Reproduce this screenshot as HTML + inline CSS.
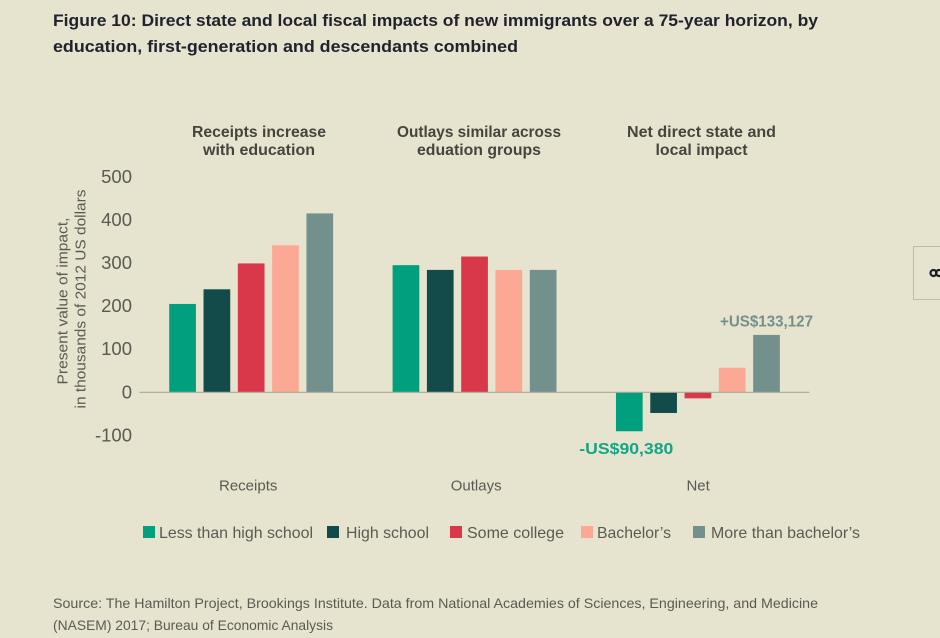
<!DOCTYPE html>
<html lang="en">
<head>
<meta charset="utf-8">
<title>Figure 10</title>
<style>
html,body{margin:0;padding:0;background:#e6e4ce;}
body{width:940px;height:638px;overflow:hidden;position:relative;font-family:"Liberation Sans",sans-serif;}
svg{position:absolute;left:0;top:0;display:block;}
text{font-family:"Liberation Sans",sans-serif;}
</style>
</head>
<body>
<svg id="chart" width="940" height="638" viewBox="0 0 940 638" xmlns="http://www.w3.org/2000/svg">
  <rect x="0" y="0" width="940" height="638" fill="#e6e4ce"/>
  <text x="53" y="26" font-size="17" font-weight="700" fill="#20232e" textLength="765" lengthAdjust="spacingAndGlyphs">Figure 10: Direct state and local fiscal impacts of new immigrants over a 75-year horizon, by</text>
  <text x="53" y="52" font-size="17" font-weight="700" fill="#20232e" textLength="465" lengthAdjust="spacingAndGlyphs">education, first-generation and descendants combined</text>

  <text x="259" y="137" text-anchor="middle" font-size="15.5" font-weight="700" fill="#45453e" textLength="134" lengthAdjust="spacingAndGlyphs">Receipts increase</text>
  <text x="259" y="155" text-anchor="middle" font-size="15.5" font-weight="700" fill="#45453e" textLength="112" lengthAdjust="spacingAndGlyphs">with education</text>
  <text x="479" y="137" text-anchor="middle" font-size="15.5" font-weight="700" fill="#45453e" textLength="164" lengthAdjust="spacingAndGlyphs">Outlays similar across</text>
  <text x="479" y="155" text-anchor="middle" font-size="15.5" font-weight="700" fill="#45453e" textLength="124" lengthAdjust="spacingAndGlyphs">eduation groups</text>
  <text x="701.5" y="137" text-anchor="middle" font-size="15.5" font-weight="700" fill="#45453e" textLength="149" lengthAdjust="spacingAndGlyphs">Net direct state and</text>
  <text x="701.5" y="155" text-anchor="middle" font-size="15.5" font-weight="700" fill="#45453e" textLength="92" lengthAdjust="spacingAndGlyphs">local impact</text>

  <text transform="translate(67.5,301) rotate(-90)" text-anchor="middle" font-size="15" fill="#5a5a52" textLength="167" lengthAdjust="spacingAndGlyphs">Present value of impact,</text>
  <text transform="translate(85.5,299) rotate(-90)" text-anchor="middle" font-size="15" fill="#5a5a52" textLength="219" lengthAdjust="spacingAndGlyphs">in thousands of 2012 US dollars</text>

  <g id="y-ticks"></g>
  <g id="bars"></g>
  <line id="zero-line" stroke="#aaa997" stroke-width="1.2"/>
  <g id="categories"></g>

  <text id="note-low" text-anchor="middle" font-size="16" font-weight="700" fill="#17a384" textLength="94" lengthAdjust="spacingAndGlyphs"></text>
  <text id="note-high" text-anchor="middle" font-size="16" font-weight="700" fill="#74908c" textLength="93" lengthAdjust="spacingAndGlyphs"></text>

  <g id="legend"></g>

  <text x="53" y="608" font-size="14" fill="#5a5a52" textLength="765" lengthAdjust="spacingAndGlyphs">Source: The Hamilton Project, Brookings Institute. Data from National Academies of Sciences, Engineering, and Medicine</text>
  <text x="53" y="630" font-size="14" fill="#5a5a52" textLength="280" lengthAdjust="spacingAndGlyphs">(NASEM) 2017; Bureau of Economic Analysis</text>

  <g>
    <rect x="913.5" y="246.5" width="40" height="53" fill="none" stroke="#bdbca8" stroke-width="1"/>
    <circle cx="933.5" cy="273" r="3" fill="none" stroke="#1c1c28" stroke-width="2.2"/>
    <circle cx="939" cy="273" r="3" fill="none" stroke="#1c1c28" stroke-width="2.2"/>
  </g>
</svg>
<script>
const categories = ["Receipts", "Outlays", "Net"];
const seriesNames = ["Less than high school", "High school", "Some college", "Bachelor\u2019s", "More than bachelor\u2019s"];
const lessThanHighSchool = [205, 295, -90.38];
const highSchool = [239, 284, -48];
const someCollege = [299, 315, -14];
const bachelors = [341, 284, 57];
const moreThanBachelors = [415, 284, 133.127];
const tickValues = [500, 400, 300, 200, 100, 0, -100];
const noteLowLabel = "-US$90,380";
const noteHighLabel = "+US$133,127";

const seriesValues = [lessThanHighSchool, highSchool, someCollege, bachelors, moreThanBachelors];
const seriesColors = ["#00a07f", "#134b4b", "#d9374a", "#fba994", "#74908c"];
const legendSwatchX = [143, 327, 450, 581, 693];
const legendTextX = [159, 346, 467, 597, 711];
const legendTextWidths = [154, 83, 97, 74, 149];
const categoryLabelOffset = [-3, 1.6, 0.2];

const NS = "http://www.w3.org/2000/svg";
const plotLeft = 139.3, plotRight = 809.4, zeroY = 392.3, pxPerUnit = 0.431;
const barWidth = 26.7, barStep = 34.3;
const bandWidth = (plotRight - plotLeft) / categories.length;

function yScale(v) { return zeroY - v * pxPerUnit; }
function bandCenter(i) { return plotLeft + bandWidth * (i + 0.5) + 0.2; }
function barX(catIndex, seriesIndex) {
  return bandCenter(catIndex) - (barStep * (seriesValues.length - 1) + barWidth) / 2 + seriesIndex * barStep;
}
function make(tag) { return document.createElementNS(NS, tag); }

const zero = document.getElementById("zero-line");
zero.setAttribute("x1", plotLeft);
zero.setAttribute("x2", plotRight);
zero.setAttribute("y1", yScale(0));
zero.setAttribute("y2", yScale(0));

const tickGroup = document.getElementById("y-ticks");
tickValues.forEach(function (v) {
  const t = make("text");
  
  
  t.setAttribute("x", 132);
  t.setAttribute("y", yScale(v) + 6);
  t.setAttribute("text-anchor", "end");
  t.setAttribute("font-size", "18.5");
  t.setAttribute("fill", "#5a5a52");
  t.textContent = String(v);
  tickGroup.appendChild(t);
});

const barGroup = document.getElementById("bars");
seriesValues.forEach(function (vals, s) {
  vals.forEach(function (v, c) {
    const r = make("rect");
    
    
    r.setAttribute("x", barX(c, s));
    r.setAttribute("y", Math.min(yScale(v), yScale(0)));
    r.setAttribute("width", barWidth);
    r.setAttribute("height", Math.abs(yScale(v) - yScale(0)));
    r.setAttribute("fill", seriesColors[s]);
    barGroup.appendChild(r);
  });
});

const catGroup = document.getElementById("categories");
categories.forEach(function (name, c) {
  const t = make("text");
  
  
  t.setAttribute("x", bandCenter(c) + categoryLabelOffset[c]);
  t.setAttribute("y", 490.5);
  t.setAttribute("text-anchor", "middle");
  t.setAttribute("font-size", "15");
  t.setAttribute("fill", "#5a5a52");
  t.textContent = name;
  catGroup.appendChild(t);
});

const noteLow = document.getElementById("note-low");
noteLow.textContent = noteLowLabel;
noteLow.setAttribute("x", barX(2, 0) + barWidth / 2 - 3);
noteLow.setAttribute("y", yScale(lessThanHighSchool[2]) + 22.5);

const noteHigh = document.getElementById("note-high");
noteHigh.textContent = noteHighLabel;
noteHigh.setAttribute("x", barX(2, 4) + barWidth / 2);
noteHigh.setAttribute("y", yScale(moreThanBachelors[2]) - 8.5);

const legendGroup = document.getElementById("legend");
seriesNames.forEach(function (name, s) {
  const box = make("rect");
  
  
  box.setAttribute("x", legendSwatchX[s]);
  box.setAttribute("y", 526);
  box.setAttribute("width", 12);
  box.setAttribute("height", 12);
  box.setAttribute("fill", seriesColors[s]);
  legendGroup.appendChild(box);
  const label = make("text");
  
  
  label.setAttribute("x", legendTextX[s]);
  label.setAttribute("y", 538);
  label.setAttribute("font-size", "16");
  label.setAttribute("fill", "#5a5a52");
  label.setAttribute("textLength", legendTextWidths[s]);
  label.setAttribute("lengthAdjust", "spacingAndGlyphs");
  label.textContent = name;
  legendGroup.appendChild(label);
});
</script>
</body>
</html>
